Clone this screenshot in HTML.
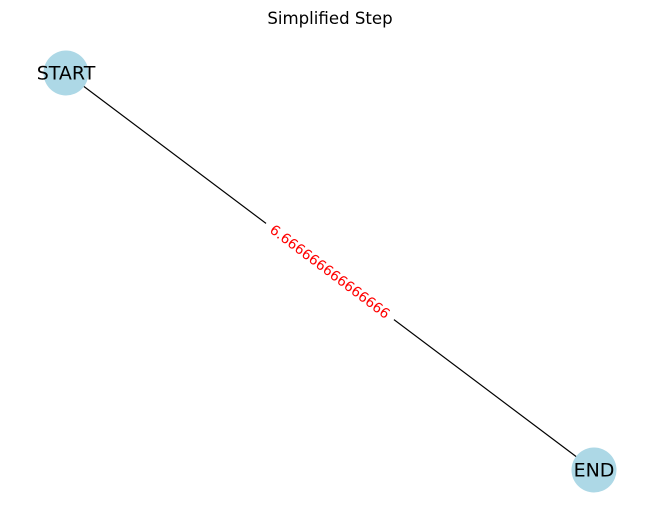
<!DOCTYPE html>
<html><head><meta charset="utf-8"><style>
html,body{margin:0;padding:0;background:#fff;}
svg{display:block;font-family:"DejaVu Sans","Liberation Sans",sans-serif;}
</style></head><body>
<svg id="chart" width="660" height="522" viewBox="0 0 660 522" xmlns="http://www.w3.org/2000/svg">
<text x="330" y="24" text-anchor="middle" font-size="16.6" fill="#000">Simplified Step</text>
<g id="edges"></g>
<g id="nodes"></g>
</svg>
<script>
const nodeNames = ["START", "END"];
const nodeX = [0, 1];
const nodeY = [1, 0];
const edgeFrom = [0];
const edgeTo = [1];
const edgeLabels = ["6.666666666666666"];

const sx = v => 66 + v * 528;
const sy = v => 470 - v * 397;
const NS = "http://www.w3.org/2000/svg";
const eg = document.getElementById('edges'), ng = document.getElementById('nodes');
edgeFrom.forEach((f, i) => {
  const t = edgeTo[i];
  const x1 = sx(nodeX[f]), y1 = sy(nodeY[f]), x2 = sx(nodeX[t]), y2 = sy(nodeY[t]);
  const l = document.createElementNS(NS, 'line');
  
  
  l.setAttribute('x1', x1); l.setAttribute('y1', y1); l.setAttribute('x2', x2); l.setAttribute('y2', y2);
  l.setAttribute('stroke', '#000'); l.setAttribute('stroke-width', '1.2');
  eg.appendChild(l);
  const mx = (x1 + x2) / 2, my = (y1 + y2) / 2;
  const ang = Math.atan2(y2 - y1, x2 - x1) * 180 / Math.PI;
  const g = document.createElementNS(NS, 'g');
  
  
  g.setAttribute('transform', `translate(${mx},${my}) rotate(${ang})`);
  const r = document.createElementNS(NS, 'rect');
  
  
  r.setAttribute('x', -80); r.setAttribute('y', -10); r.setAttribute('width', 160); r.setAttribute('height', 20);
  r.setAttribute('fill', '#fff');
  g.appendChild(r);
  const tx = document.createElementNS(NS, 'text');
  
  
  tx.setAttribute('text-anchor', 'middle'); tx.setAttribute('y', 5);
  tx.setAttribute('font-size', '13.9'); tx.setAttribute('fill', 'red');
  tx.textContent = edgeLabels[i];
  g.appendChild(tx);
  eg.appendChild(g);
});
nodeNames.forEach((n, i) => {
  const c = document.createElementNS(NS, 'circle');
  
  
  c.setAttribute('cx', sx(nodeX[i])); c.setAttribute('cy', sy(nodeY[i])); c.setAttribute('r', 22.5);
  c.setAttribute('fill', '#add8e6');
  ng.appendChild(c);
  const t = document.createElementNS(NS, 'text');
  
  
  t.setAttribute('x', sx(nodeX[i])); t.setAttribute('y', sy(nodeY[i]) + 6.5);
  t.setAttribute('text-anchor', 'middle'); t.setAttribute('font-size', '19');
  t.textContent = n;
  ng.appendChild(t);
});
</script>
</body></html>
